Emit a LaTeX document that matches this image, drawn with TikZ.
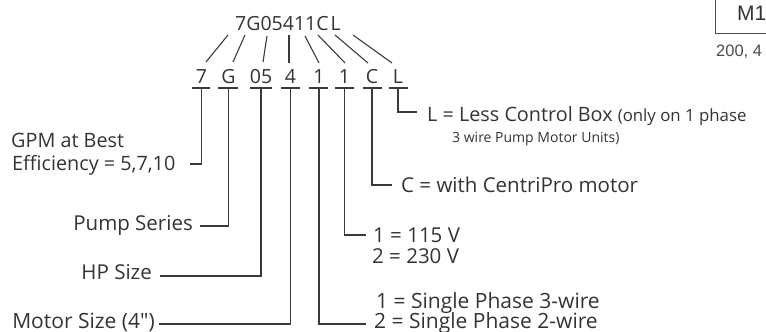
\documentclass[tikz,border=0pt]{standalone}
\usepackage{fontspec}
\setmainfont{Open Sans}
\newfontfamily\arialfont{Liberation Sans}
\definecolor{ink}{HTML}{333333}
\definecolor{inkline}{HTML}{3A3A3A}
\begin{document}
\begin{tikzpicture}[x=1pt,y=-1pt,
  code/.style={inner sep=0, text=ink, font=\fontsize{19.5}{22}\selectfont},
  lbl/.style={inner sep=0, text=ink, font=\fontsize{20.5}{22}\selectfont},
  lbls/.style={inner sep=0, text=ink, font=\fontsize{19.8}{22}\selectfont},
  lblw/.style={inner sep=0, text=ink, font=\fontsize{21}{22}\selectfont},
  sml/.style={inner sep=0, text=ink, font=\fontsize{14}{17}\selectfont},
  ln/.style={draw=inkline, line width=1.1pt},
  boxln/.style={draw=black!70, line width=0.9pt}]
\useasboundingbox (0,0) rectangle (766,332);
\clip (0,0) rectangle (766,332);

% code string
\node[code, anchor=base] (title) at (288,30) {7G05411C\kern2pt L};

% split characters
\node[code, anchor=base] (d1) at (201.5,83) {7};
\node[code, anchor=base] (d2) at (228.5,83) {G};
\node[code, anchor=base] (d3) at (261,83) {05};
\node[code, anchor=base] (d4) at (290.5,83) {4};
\node[code, anchor=base] (d5) at (319,83) {1};
\node[code, anchor=base] (d6) at (344.5,83) {1};
\node[code, anchor=base] (d7) at (372,83) {C};
\node[code, anchor=base] (d8) at (398,83) {L};

% diagonal connectors
\coordinate (t1) at (228,35); \coordinate (b1) at (206,62);
\coordinate (t2) at (245,35); \coordinate (b2) at (233,62);
\coordinate (t3) at (267,36); \coordinate (b3) at (263,62);
\coordinate (t4) at (289,35); \coordinate (b4) at (289,63);
\coordinate (t5) at (305,36); \coordinate (b5) at (319,63);
\coordinate (t6) at (318,35); \coordinate (b6) at (345,63);
\coordinate (t7) at (335,35); \coordinate (b7) at (368,63);
\coordinate (t8) at (353,35); \coordinate (b8) at (392,63);
\foreach \i in {1,...,8} { \draw[ln] (t\i) -- (b\i); }

% underlines
\draw[ln] (192,88) -- (210,88);
\draw[ln] (218,88) -- (238,88);
\draw[ln] (250,88) -- (272,88);
\draw[ln] (281,88) -- (300,88);
\draw[ln] (309,88) -- (328,88);
\draw[ln] (335,88) -- (354,88);
\draw[ln] (363,88) -- (382,88);
\draw[ln] (389,88) -- (408,88);

% labels
\node[lbls, anchor=base west] (gpm1) at (11,147) {GPM at Best};
\node[lbls, anchor=base west] (gpm2) at (12,170) {Efficiency = 5,7,10};
\node[lbl, anchor=base east] (pump) at (193,230) {Pump Series};
\node[lbl, anchor=base east] (hp) at (152,279) {HP Size};
\node[lblw, anchor=base east] (motor) at (155,328) {Motor Size (4\textquotedbl)};
\node[lbls, anchor=base west] (lcb) at (427,121) {L = Less Control Box {\fontsize{16.8}{17}\selectfont(only on 1 phase}};
\node[sml, anchor=base west] (lcb2) at (452,142) {3 wire Pump Motor Units)};
\node[lbl, anchor=base west] (cp) at (401,192) {C = with CentriPro motor};
\node[lbl, anchor=base west] (v1) at (373,242) {1 = 115 V};
\node[lbl, anchor=base west] (v2) at (372,263) {2 = 230 V};
\node[lblw, anchor=base west] (ph1) at (376,308) {1 = Single Phase 3-wire};
\node[lblw, anchor=base west] (ph2) at (374,328) {2 = Single Phase 2-wire};

% leader lines
\coordinate (u1) at (201.5,88); \coordinate (e1) at (190,164);
\coordinate (u2) at (228.5,88); \coordinate (e2) at (200,226);
\coordinate (u3) at (261,88);   \coordinate (e3) at (160,276);
\coordinate (u4) at (290.5,88); \coordinate (e4) at (159,324);
\coordinate (u5) at (319,88);   \coordinate (e5) at (366,324);
\coordinate (u6) at (344.5,88); \coordinate (e6) at (366,235);
\coordinate (u7) at (372,88);   \coordinate (e7) at (392,185);
\coordinate (u8) at (398,88);   \coordinate (e8) at (417,112);
\foreach \i in {1,...,8} { \draw[ln] (u\i) |- (e\i); }

% cut-off box at top right
\coordinate (bx1) at (715,-5);
\coordinate (bx2) at (715,33);
\coordinate (bx3) at (780,33);
\draw[boxln] (bx1) -- (bx2) -- (bx3);
\node[inner sep=0, anchor=base west, font=\arialfont\fontsize{21}{24}\selectfont, text=black!80] (m1) at (737,20) {M1};
\node[inner sep=0, anchor=base west, font=\arialfont\fontsize{16.5}{19}\selectfont, text=black!70] (nums) at (716,56) {200, 4};
\end{tikzpicture}
\end{document}
